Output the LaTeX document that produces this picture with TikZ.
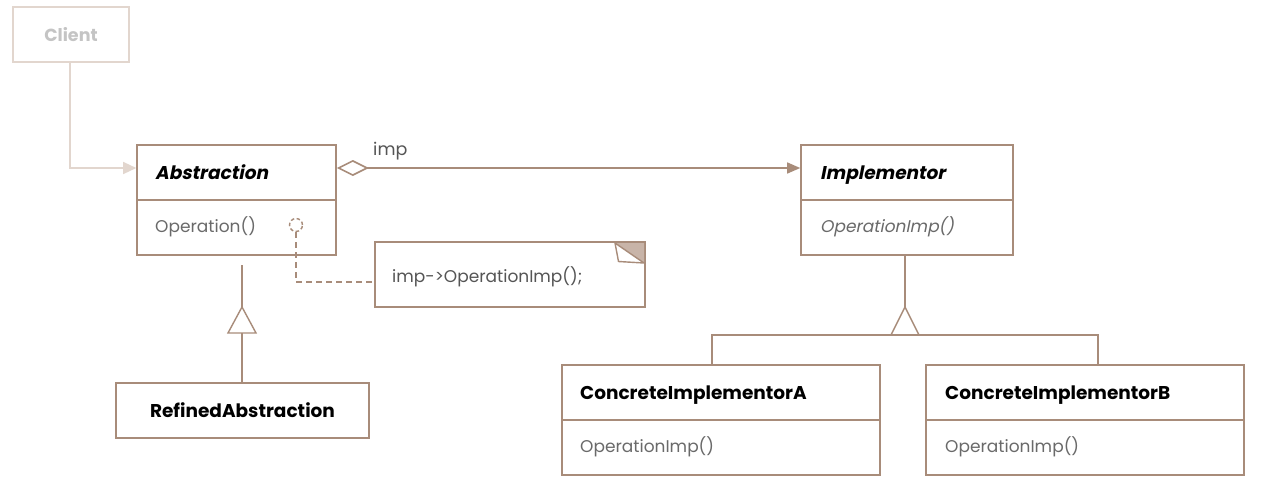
\documentclass[tikz,border=0pt]{standalone}
\usepackage{fontspec}
\setmainfont{Poppins}[AutoFakeSlant=0.2]
\newfontfamily\slpop{Poppins}[FakeSlant=0.2,BoldFeatures={FakeSlant=0.2}]
\usetikzlibrary{arrows.meta}
\definecolor{brd}{HTML}{A88C7A}
\definecolor{lbrd}{HTML}{E2D6CE}
\definecolor{ltxt}{HTML}{C4C4C4}
\definecolor{optxt}{HTML}{6A6A6A}
\definecolor{fold}{HTML}{C8B4A8}
\begin{document}
\begin{tikzpicture}[x=1pt,y=-1pt,
  box/.style={draw=brd,line width=1.6pt,inner sep=0pt},
  conn/.style={draw=brd,line width=1.4pt},
  title/.style={anchor=base west,font=\fontsize{18.5}{22}\selectfont\bfseries,text=black,inner sep=0pt},
  optext/.style={anchor=base west,font=\fontsize{17}{20}\selectfont,text=optxt,inner sep=0pt}]
\useasboundingbox (0,0) rectangle (1264,496);
\fill[white] (0,0) rectangle (1264,496);
% Client
\node[draw=lbrd,line width=1.6pt,minimum width=116,minimum height=55,inner sep=0pt] (client) at (71,34.5) {};
\node[font=\fontsize{17.5}{20}\selectfont\bfseries,text=ltxt,inner sep=0pt] (clientt) at (client) {Client};
% Abstraction
\node[box,minimum width=199,minimum height=110] (abs) at (236.5,200) {};
\draw[conn] (abs.west) -- (abs.east);
\node[title] (abst) at (155,179) {\slpop\bfseries Abstraction};
\node[optext] (abso) at (155,232.5) {Operation()};
\node[draw=brd,line width=1.4pt,dash pattern=on 3.5pt off 2.5pt,circle,minimum size=13,inner sep=0pt] (dot) at (296,225) {};
% Implementor
\node[box,minimum width=212,minimum height=110] (impl) at (907,200) {};
\draw[conn] (impl.west) -- (impl.east);
\node[title] (implt) at (820,179) {\slpop\bfseries Implementor};
\node[optext] (implo) at (820,232.5) {\slpop OperationImp()};
% Concrete A
\node[box,minimum width=318,minimum height=110] (ca) at (721,420) {};
\draw[conn] (ca.west) -- (ca.east);
\node[title] (cat) at (580,399.5) {ConcreteImplementorA};
\node[optext] (cao) at (580,452.5) {OperationImp()};
% Concrete B
\node[box,minimum width=318,minimum height=110] (cb) at (1085,420) {};
\draw[conn] (cb.west) -- (cb.east);
\node[title] (cbt) at (945,399.5) {ConcreteImplementorB};
\node[optext] (cbo) at (945,452.5) {OperationImp()};
% Refined
\node[box,minimum width=253,minimum height=55] (ref) at (242.5,410.5) {};
\node[font=\fontsize{18.5}{22}\selectfont\bfseries,inner sep=0pt] (reft) at (ref) {RefinedAbstraction};
% Note
\coordinate (nA) at (375,242);
\coordinate (nB) at (645,307);
\draw[box] (nA) rectangle (nB);
\fill[fold] (615,243) -- (644,243) -- (644,263) -- cycle;
\draw[draw=brd,line width=1.4pt,fill=white,line join=round] (615,243) -- (618.5,261.5) -- (644,263) -- cycle;
\node[anchor=west,font=\fontsize{17}{20}\selectfont,text=optxt!80!black,inner sep=0pt] (notet) at (392,277) {imp->OperationImp();};
% Client -> Abstraction
\coordinate (cl1) at (70,168);
\draw[draw=lbrd,line width=1.4pt,-{Triangle[length=13pt,width=12pt]}] (client.south -| cl1) -- (cl1) -- (abs.west |- cl1);
% aggregation
\coordinate (ag) at (336,168);
\draw[conn,{Diamond[open,length=32pt,width=16pt,line width=1.6pt]}-{Triangle[length=13pt,width=11pt]}] (abs.east |- ag) -- (impl.west |- ag);
\node[anchor=south west,font=\fontsize{17.5}{20}\selectfont,text=optxt!80!black,inner sep=0pt] (implbl) at (373,160) {imp};
% note dashed link
\coordinate (d1) at (296,282);
\draw[conn,dash pattern=on 6pt off 4pt] (dot.south) -- (d1) -- (nA |- d1);
% Refined inheritance
\coordinate (r1) at (242,265);
\coordinate (r2) at (242,307);
\coordinate (r3) at (242,333);
\draw[conn] (r1) -- (r2);
\draw[conn,line join=miter] (r2) -- (256,333) -- (228,333) -- cycle;
\draw[conn] (r3) -- (ref.north -| r3);
% Implementor inheritance
\coordinate (i2) at (905,307);
\coordinate (i3) at (905,335);
\draw[conn] (impl.south -| i2) -- (i2);
\draw[conn,line join=miter] (i2) -- (919,335) -- (891,335) -- cycle;
\coordinate (hA) at (712,335);
\coordinate (hB) at (1098,335);
\draw[conn] (ca.north -| hA) -- (hA) -- (hB) -- (cb.north -| hB);
\end{tikzpicture}
\end{document}
